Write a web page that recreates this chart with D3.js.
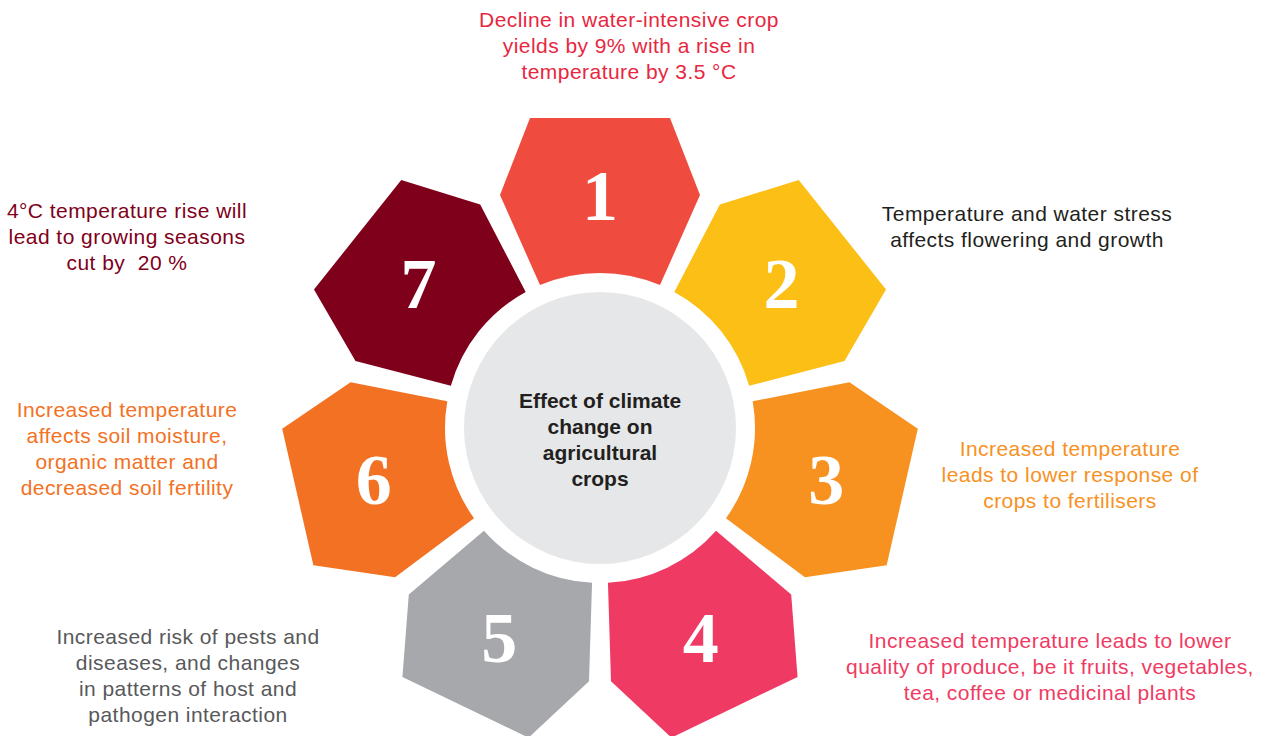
<!DOCTYPE html>
<html>
<head>
<meta charset="utf-8">
<script src="https://cdn.jsdelivr.net/npm/d3@7"></script>
<style>
  body { margin: 0; background: #ffffff; }
  svg { display: block; }
</style>
</head>
<body>
<div id="chart"></div>
<script>
// Effects of climate change on agricultural crops - seven petals round a hub

var numbers = ["1", "2", "3", "4", "5", "6", "7"];
var petalColors = ["#EF4C3F", "#FBBF16", "#F7911F", "#EF3B63", "#A7A8AC", "#F37123", "#7F001A"];
var noteColors  = ["#E8273F", "#231F20", "#F7911F", "#EF3B63", "#58595B", "#F37123", "#7F001A"];
var notes = [
  ["Decline in water-intensive crop", "yields by 9% with a rise in", "temperature by 3.5 °C"],
  ["Temperature and water stress", "affects flowering and growth"],
  ["Increased temperature", "leads to lower response of", "crops to fertilisers"],
  ["Increased temperature leads to lower", "quality of produce, be it fruits, vegetables,", "tea, coffee or medicinal plants"],
  ["Increased risk of pests and", "diseases, and changes", "in patterns of host and", "pathogen interaction"],
  ["Increased temperature", "affects soil moisture,", "organic matter and", "decreased soil fertility"],
  ["4°C temperature rise will", "lead to growing seasons", "cut by  20 %"]
];
var hubLines = ["Effect of climate", "change on", "agricultural", "crops"];

// layout only (centre x, first baseline y) of each note
var noteAnchors = [[629, 27], [1027, 221], [1070, 456], [1050, 648], [188, 644], [127, 417], [127, 218]];

var width = 1265, height = 736;
var cx = 600, cy = 428;
var hubR = 136, cutR = 155;

var svg = d3.select("#chart").append("svg")
    .attr("width", width)
    .attr("height", height);

var angle = d3.scaleLinear()
    .domain([0, numbers.length])
    .range([-Math.PI / 2, 1.5 * Math.PI]);

// petal outline in local coords: u = outward, v = sideways
var innerU = Math.sqrt(cutR * cutR - 60 * 60);
function petalPath(i) {
    var t = angle(i);
    var c = Math.cos(t), s = Math.sin(t);
    function pt(u, v) { return [cx + u * c - v * s, cy + u * s + v * c]; }
    var a = pt(310, -70), b = pt(310, 70), r = pt(233, 100),
        ir = pt(innerU, 60), il = pt(innerU, -60), l = pt(233, -100);
    return "M" + a + "L" + b + "L" + r + "L" + ir +
        "A" + cutR + "," + cutR + " 0 0 0 " + il + "L" + l + "Z";
}

var petals = svg.append("g").selectAll("g")
    .data(numbers)
    .enter().append("g");

petals.append("path")
    .attr("d", function(d, i) { return petalPath(i); })
    .attr("fill", function(d, i) { return petalColors[i]; });

petals.append("text")
    .attr("x", function(d, i) { return cx + 232 * Math.cos(angle(i)); })
    .attr("y", function(d, i) { return cy + 232 * Math.sin(angle(i)); })
    .attr("dy", "0.34em")
    .attr("text-anchor", "middle")
    .attr("font-family", "'Liberation Serif', 'Times New Roman', serif")
    .attr("font-weight", "bold")
    .attr("font-size", 72)
    .attr("fill", "#ffffff")
    .text(function(d) { return d; });

// hub
svg.append("circle")
    .attr("cx", cx).attr("cy", cy).attr("r", hubR)
    .attr("fill", "#E6E7E8");

svg.append("text")
    .attr("text-anchor", "middle")
    .attr("font-family", "'Liberation Sans', Arial, sans-serif")
    .attr("font-weight", "bold")
    .attr("font-size", 21)
    .attr("fill", "#231F20")
    .selectAll("tspan")
    .data(hubLines)
    .enter().append("tspan")
    .attr("x", cx)
    .attr("y", function(d, i) { return 408 + i * 26; })
    .text(function(d) { return d; });

// notes
var noteG = svg.append("g")
    .attr("font-family", "'Liberation Sans', Arial, sans-serif")
    .attr("font-size", 21)
    .attr("letter-spacing", 0.45)
    .attr("text-anchor", "middle");

noteG.selectAll("text")
    .data(notes)
    .enter().append("text")
    .attr("xml:space", "preserve")
    .attr("fill", function(d, i) { return noteColors[i]; })
    .each(function(lines, i) {
        d3.select(this).selectAll("tspan")
            .data(lines)
            .enter().append("tspan")
            .attr("x", noteAnchors[i][0])
            .attr("y", function(d, j) { return noteAnchors[i][1] + j * 26; })
            .text(function(d) { return d; });
    });
</script>
</body>
</html>
